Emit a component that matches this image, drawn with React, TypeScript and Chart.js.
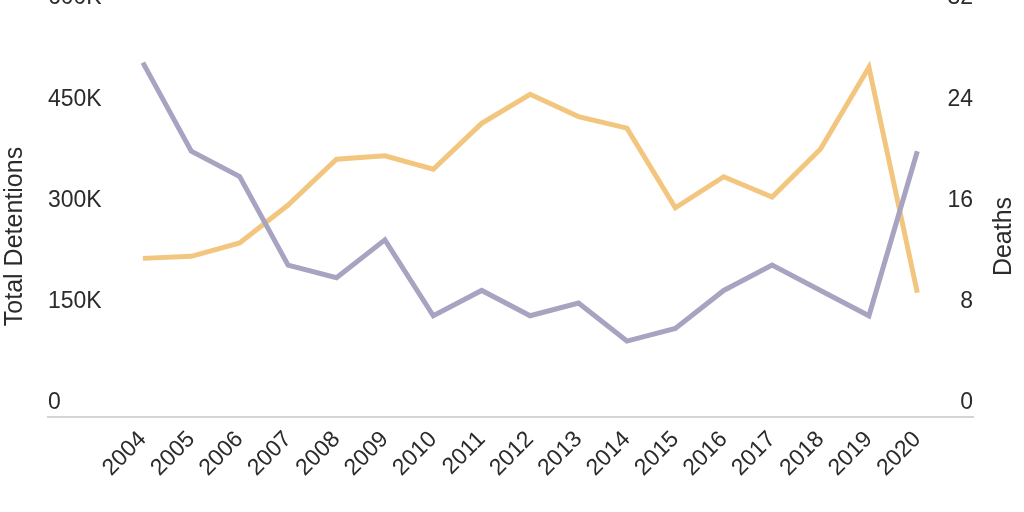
import React, { useEffect, useRef } from 'react';
import { Chart, registerables } from 'chart.js';

Chart.register(...registerables);

const years: number[] = [2004, 2005, 2006, 2007, 2008, 2009, 2010, 2011, 2012, 2013, 2014, 2015, 2016, 2017, 2018, 2019, 2020];
const detentions: number[] = [235000, 238000, 258000, 314000, 382000, 387000, 367000, 435000, 478000, 445000, 428000, 310000, 356000, 326000, 397000, 518000, 184000];
const deaths: number[] = [28, 21, 19, 12, 11, 14, 8, 10, 8, 9, 6, 7, 10, 12, 10, 8, 21];

const leftTitle = 'Total Detentions';
const rightTitle = 'Deaths';

const FONT = '"Liberation Sans", Arial, sans-serif';
const TEXT = '#2b2b2b';

// axis titles both read bottom-to-top, chart.js can't do that on the right side
const sideTitles = {
  id: 'sideTitles',
  afterDraw(chart: Chart) {
    const { ctx, chartArea } = chart;
    const cy = (chartArea.top + chartArea.bottom) / 2 + 22;
    ctx.save();
    ctx.font = '25px ' + FONT;
    ctx.fillStyle = TEXT;
    ctx.textAlign = 'center';
    ctx.textBaseline = 'middle';
    [[chartArea.left - 33, leftTitle], [chartArea.right + 31, rightTitle]].forEach(([x, t]) => {
      ctx.save();
      ctx.translate(x as number, cy);
      ctx.rotate(-Math.PI / 2);
      ctx.fillText(t as string, 0, 0);
      ctx.restore();
    });
    ctx.restore();
  },
};

const App: React.FC = () => {
  const canvasRef = useRef<HTMLCanvasElement | null>(null);
  const chartRef = useRef<Chart | null>(null);

  useEffect(() => {
    if (!canvasRef.current) return;
    const ctx = canvasRef.current.getContext('2d');
    if (!ctx) return;
    if (chartRef.current) chartRef.current.destroy();

    const yFont = { family: FONT, size: 23 };
    const xFont = { family: FONT, size: 23 };

    chartRef.current = new Chart(ctx, {
      type: 'line',
      data: {
        datasets: [
          {
            label: 'Total Detentions',
            data: years.map((y, i) => ({ x: y, y: detentions[i] })),
            borderColor: '#f3c67f',
            borderWidth: 5,
            pointRadius: 0,
            tension: 0,
            yAxisID: 'y',
            order: 1,
          },
          {
            label: 'Deaths',
            data: years.map((y, i) => ({ x: y, y: deaths[i] })),
            borderColor: '#a7a3c1',
            borderWidth: 5,
            pointRadius: 0,
            tension: 0,
            yAxisID: 'y1',
            order: 0,
          },
        ],
      },
      options: {
        animation: false,
        responsive: true,
        maintainAspectRatio: false,
        layout: { padding: { left: 48, right: 51, top: 12, bottom: 0 } },
        plugins: {
          legend: { display: false },
          tooltip: { enabled: false },
        },
        scales: {
          x: {
            type: 'linear',
            min: 2002.04,
            max: 2021.15,
            afterBuildTicks: (axis: any) => {
              axis.ticks = years.map((v) => ({ value: v }));
            },
            afterFit: (axis: any) => {
              axis.height = 95;
            },
            grid: { display: false, drawTicks: false },
            border: { display: true, color: '#d4d4d4', width: 2 },
            ticks: {
              autoSkip: false,
              minRotation: 45,
              maxRotation: 45,
              padding: 9,
              color: TEXT,
              font: xFont,
              callback: (v: any) => String(v),
            },
          },
          y: {
            position: 'left',
            min: 0,
            max: 600000,
            afterFit: (axis: any) => {
              axis.paddingTop = 0;
              axis.paddingBottom = 0;
            },
            grid: { display: false, drawTicks: false },
            border: { display: false },
            ticks: {
              stepSize: 150000,
              mirror: true,
              padding: 0,
              labelOffset: -14,
              color: TEXT,
              font: yFont,
              callback: (v: any) => (v === 0 ? '0' : v / 1000 + 'K'),
            },
          },
          y1: {
            position: 'right',
            min: 0,
            max: 32,
            afterFit: (axis: any) => {
              axis.paddingTop = 0;
              axis.paddingBottom = 0;
            },
            grid: { display: false, drawTicks: false },
            border: { display: false },
            ticks: {
              stepSize: 8,
              mirror: true,
              padding: 0,
              labelOffset: -14,
              color: TEXT,
              font: yFont,
            },
          },
        },
      },
      plugins: [sideTitles],
    });

    return () => {
      if (chartRef.current) {
        chartRef.current.destroy();
        chartRef.current = null;
      }
    };
  }, []);

  return (
    <div style={{ position: 'absolute', left: 0, top: 0, width: 1024, height: 512, background: '#fff' }}>
      <canvas ref={canvasRef}></canvas>
    </div>
  );
};

export default App;
